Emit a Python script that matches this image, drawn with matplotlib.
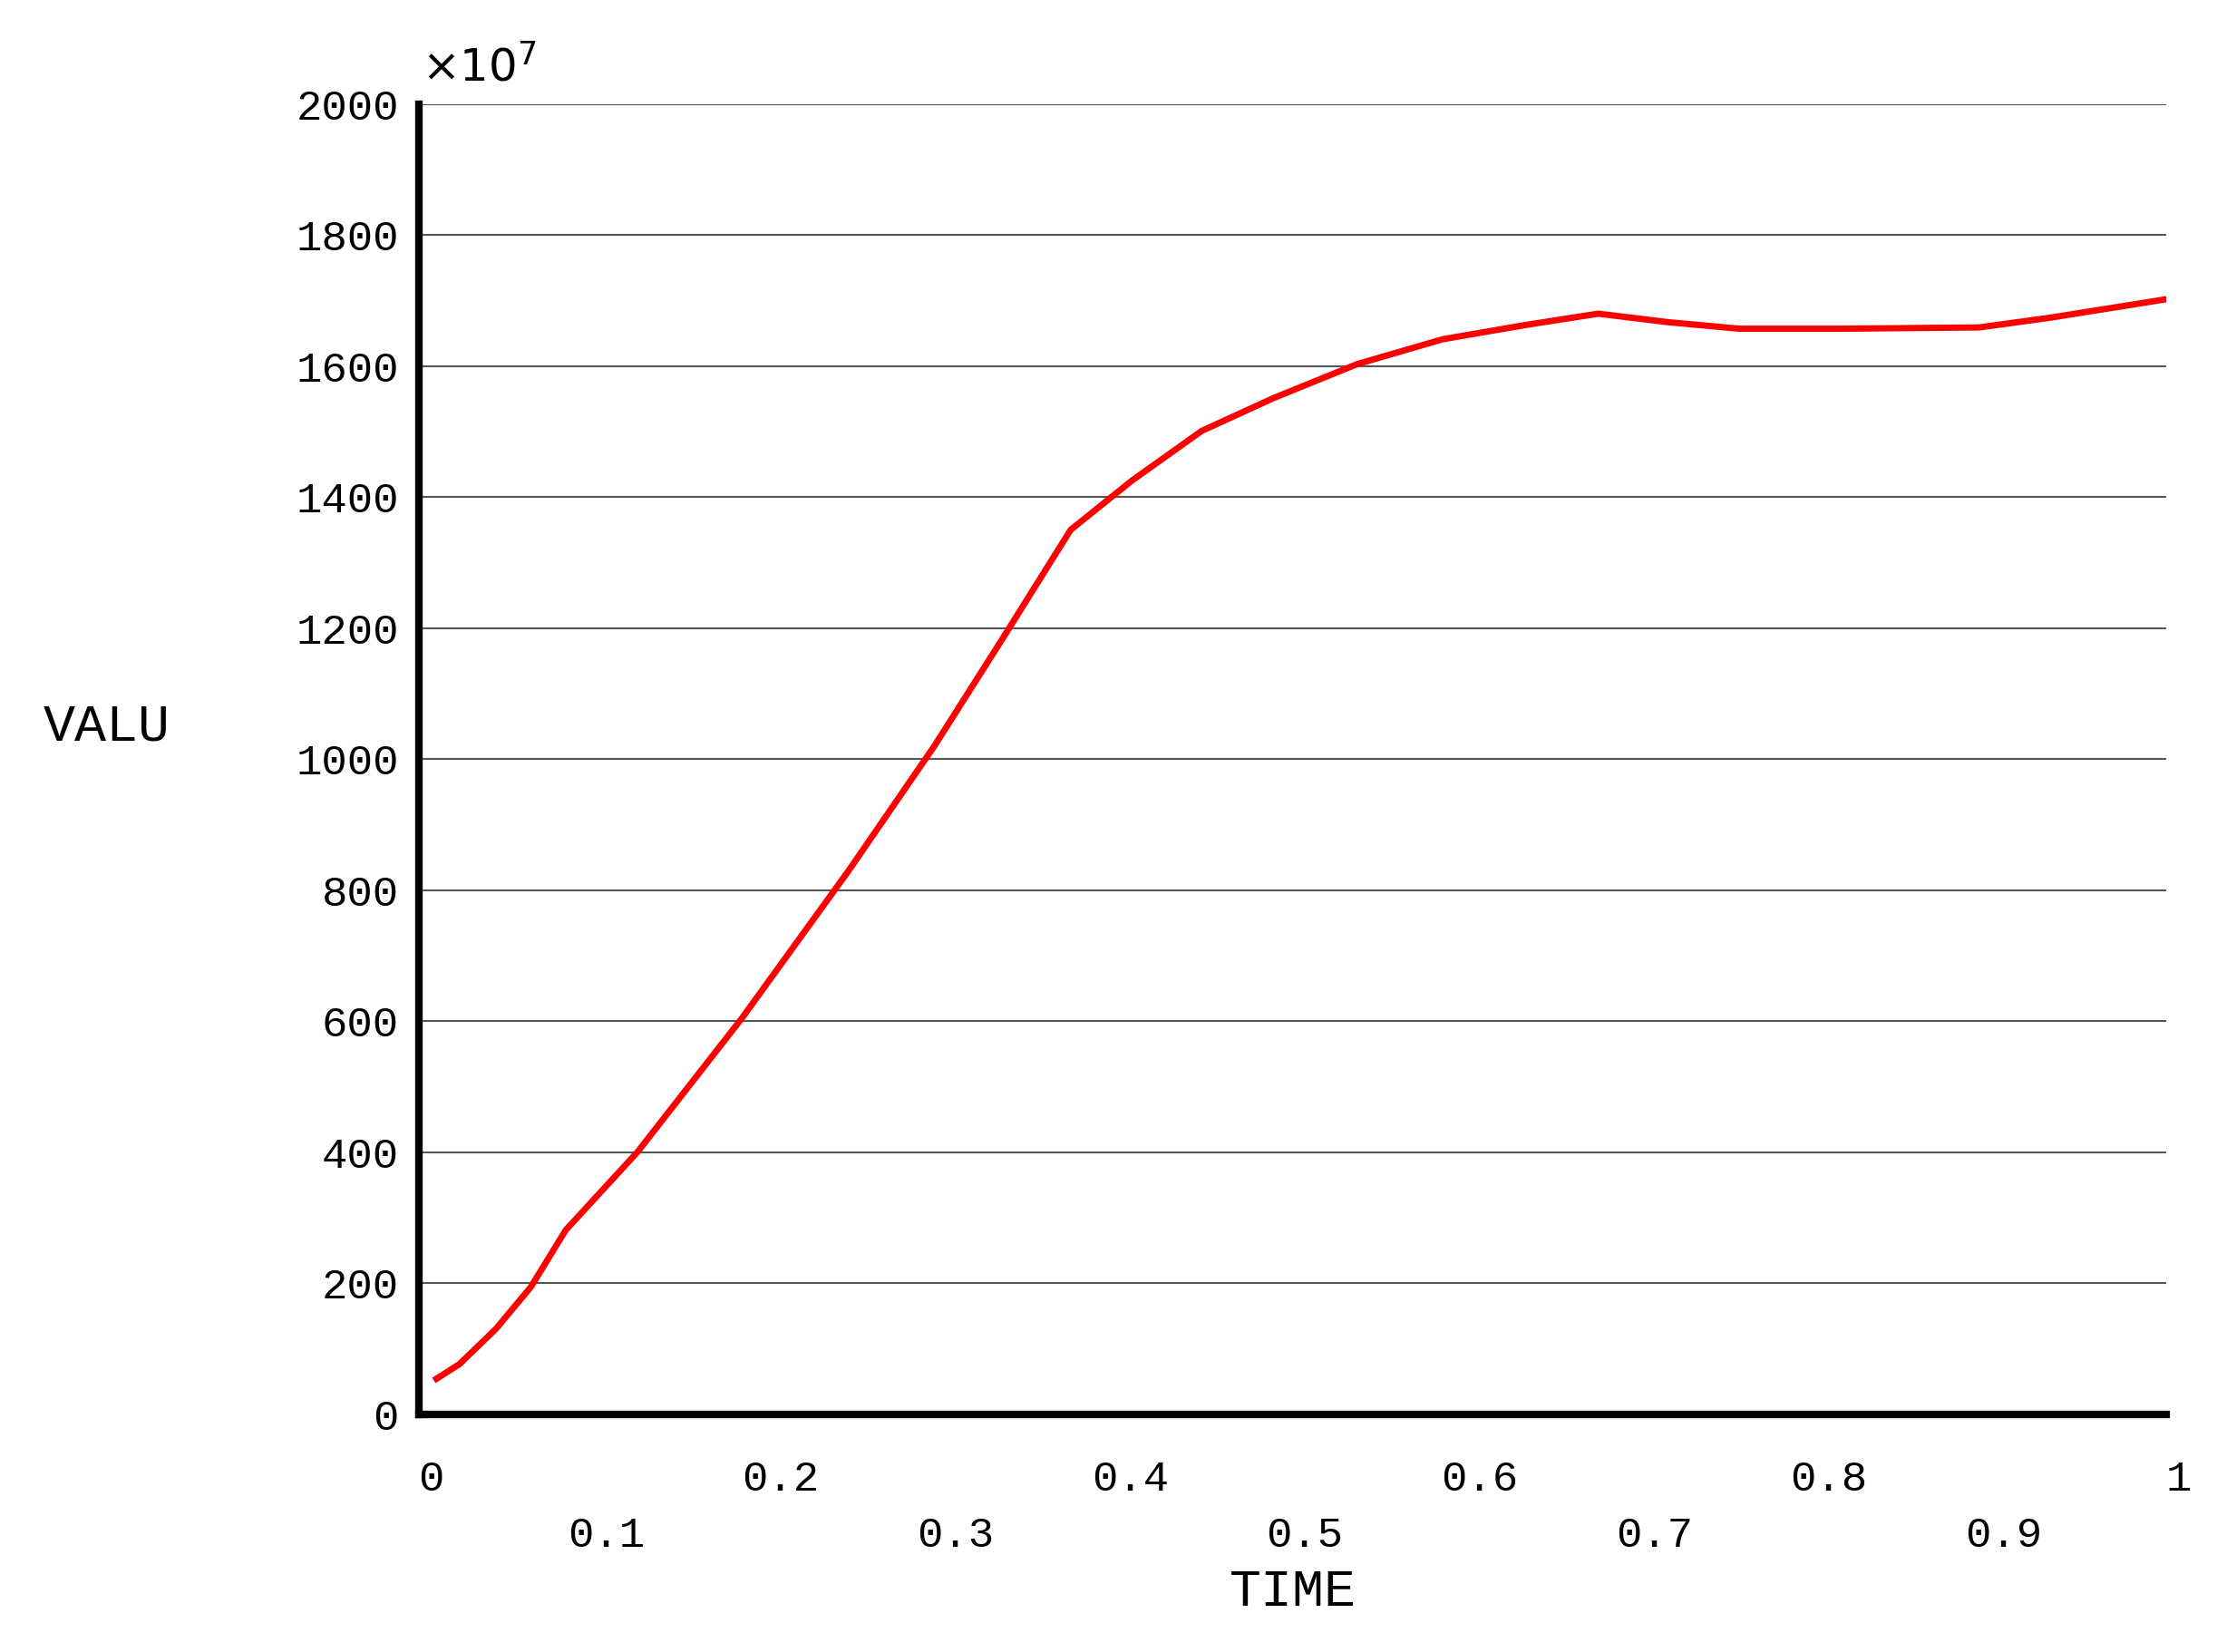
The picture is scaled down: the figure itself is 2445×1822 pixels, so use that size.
import matplotlib
matplotlib.use("Agg")
import matplotlib.pyplot as plt

time = [0.01,0.023,0.044,0.064,0.084,0.125,0.185,0.246,0.295,0.335,0.373,0.408,0.448,0.489,0.537,0.586,0.634,0.675,0.715,0.756,0.812,0.893,0.934,1.0]
valu = [54,76,130,194,281,400,605,830,1020,1188,1350,1425,1501,1551,1603,1641,1663,1680,1667,1657,1657,1659,1674,1702]
yticks = [0,200,400,600,800,1000,1200,1400,1600,1800,2000]
xticks = [0,0.1,0.2,0.3,0.4,0.5,0.6,0.7,0.8,0.9,1]

fig = plt.figure(figsize=(24.45,18.22), dpi=100)
ax = fig.add_axes([0.189,0.144,0.788,0.793])
ax.plot(time, valu, color='#ff0000', lw=5)
ax.set_xlim(0,1); ax.set_ylim(0,2000)
ax.set_yticks(yticks)
ax.set_yticklabels([str(v) for v in yticks], fontfamily='Liberation Mono', fontsize=34)
ax.set_xticks(xticks)
ax.set_xticklabels(['' for _ in xticks])
for i,t in enumerate(xticks):
    lab = '0' if t==0 else ('1' if t==1 else f'{t:.1f}')
    ax.text(t+0.007, -70 if i%2==0 else -155, lab, ha='center', va='top',
            fontfamily='Liberation Mono', fontsize=34, transform=ax.transData, clip_on=False)
ax.tick_params(axis='both', length=0, pad=16)
ax.grid(axis='y', color='#555555', lw=1.5)
for s in ['top','right']: ax.spines[s].set_visible(False)
for s in ['left','bottom']: ax.spines[s].set_linewidth(6)
ax.text(0.5, -235, 'TIME', ha='center', va='top', fontfamily='Liberation Mono', fontsize=42, transform=ax.transData)
fig.text(0.048, 0.56, 'VALU', ha='center', va='center', fontfamily='Liberation Mono', fontsize=42)
fig.text(0.19, 0.945, r'$\times10^7$', ha='left', va='bottom', fontsize=36, fontfamily='Liberation Serif')
fig.savefig('out.png', facecolor='white')
